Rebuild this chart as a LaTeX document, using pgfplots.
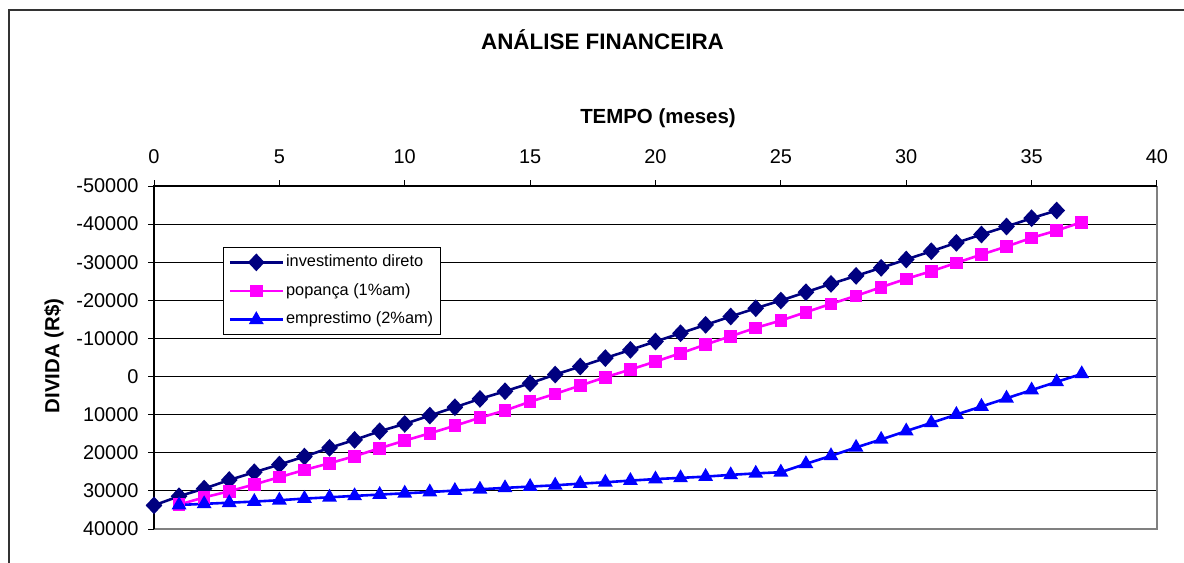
\documentclass[border=0pt]{standalone}
\usepackage{fontspec}
\setmainfont{Liberation Sans}
\usepackage{pgfplots}
\pgfplotsset{compat=1.18}
\definecolor{navyc}{RGB}{0,0,128}
\definecolor{magc}{RGB}{255,0,255}
\definecolor{bluec}{RGB}{0,0,255}
\definecolor{bordergray}{RGB}{128,128,128}
\begin{document}
\begin{tikzpicture}
\useasboundingbox (0bp,0bp) rectangle (1184bp,563bp);
\draw[line width=1.5bp, black!80] (9bp,0bp) -- (9bp,553bp) -- (1184bp,553bp);
\node[anchor=base, font=\bfseries\fontsize{22.5}{26}\selectfont] at (602.5bp,513.1bp) {ANÁLISE FINANCEIRA};
\node[anchor=base, font=\bfseries\fontsize{20.5}{24}\selectfont] at (658bp,439.7bp) {TEMPO (meses)};
\node[anchor=base, rotate=90, font=\bfseries\fontsize{20.5}{24}\selectfont] at (59.3bp,207bp) {DIVIDA (R\$)};
\begin{axis}[
  at={(154bp,34bp)}, anchor=south west,
  width=1003bp, height=343bp, scale only axis,
  xmin=0, xmax=40, ymin=-50000, ymax=40000, y dir=reverse,
  clip=false, scaled y ticks=false, scaled x ticks=false,
  xtick={0,5,10,15,20,25,30,35,40}, xticklabels={0,5,10,15,20,25,30,35,40},
  ytick={-50000,-40000,-30000,-20000,-10000,0,10000,20000,30000,40000},
  yticklabels={-50000,-40000,-30000,-20000,-10000,0,10000,20000,30000,40000},
  xtick pos=upper, ytick pos=lower, xticklabel pos=upper, yticklabel pos=lower,
  tick align=outside, major tick length=6bp,
  tick style={black, line width=1bp},
  ticklabel style={font=\fontsize{20}{24}\selectfont},
  yticklabel style={xshift=-6bp},
  xticklabel style={yshift=13bp},
  ymajorgrids, major grid style={black, line width=1bp},
  axis line style={draw=none},
  legend cell align=left,
  legend image code/.code={\draw[mark repeat=2,mark phase=2,#1] plot coordinates {(0bp,0bp) (26.5bp,0bp) (53bp,0bp)};},
  legend style={at={(axis description cs:0.0688,0.822)}, anchor=north west,
    draw=black, line width=1bp, font=\fontsize{16.4}{19}\selectfont,
    inner xsep=5bp, inner ysep=6.8bp, row sep=12.7bp,
    nodes={inner xsep=2bp, inner ysep=0bp, text height=12bp, text depth=4bp}},
]
\draw[bordergray, line width=2bp] (axis cs:40,-50000) -- (axis cs:40,40000) -- (axis cs:0,40000);
\draw[black, line width=1.2bp] (axis cs:0,40000) -- (axis cs:0,-50000) -- (axis cs:40,-50000);
\addplot[color=navyc, line width=2.6bp, mark=diamond*, mark size=7bp, mark options={solid, fill=navyc, xscale=1.25}]
coordinates {
(0,33800) (1,31400) (2,29400) (3,27150) (4,25110) (5,23100) (6,21000) (7,18710) (8,16620)
(9,14350) (10,12420) (11,10240) (12,8050) (13,5860) (14,3860) (15,1760) (16,-520)
(17,-2620) (18,-4840) (19,-7000) (20,-9190) (21,-11370) (22,-13570) (23,-15750)
(24,-17930) (25,-19950) (26,-22130) (27,-24320) (28,-26420) (29,-28530) (30,-30710)
(31,-32890) (32,-35090) (33,-37270) (34,-39370) (35,-41550) (36,-43570)
};
\addlegendentry{investimento direto}
\addplot[color=magc, line width=2.6bp, mark=square*, mark size=5bp, mark options={solid, fill=magc}]
coordinates {
(1,33600) (2,31700) (3,30100) (4,28300) (5,26400) (6,24500) (7,22750) (8,20900)
(9,18800) (10,16800) (11,14900) (12,12900) (13,10800) (14,8900) (15,6600) (16,4540)
(17,2360) (18,180) (19,-1840) (20,-3940) (21,-6120) (22,-8400) (23,-10580) (24,-12780)
(25,-14700) (26,-16880) (27,-19080) (28,-21180) (29,-23440) (30,-25640) (31,-27640)
(32,-29840) (33,-32020) (34,-34120) (35,-36400) (36,-38320) (37,-40500)
};
\addlegendentry{popança (1\%am)}
\addplot[color=bluec, line width=2.6bp, mark=triangle*, mark size=6bp, mark options={solid, fill=bluec}]
coordinates {
(1,33700) (2,33400) (3,33100) (4,32800) (5,32450) (6,32020) (7,31680) (8,31310)
(9,30970) (10,30630) (11,30300) (12,29920) (13,29580) (14,29210) (15,28870) (16,28530)
(17,28100) (18,27740) (19,27300) (20,26900) (21,26590) (22,26250) (23,25800) (24,25400)
(25,25100) (26,22900) (27,20800) (28,18600) (29,16500) (30,14300) (31,12150)
(32,9970) (33,7850) (34,5700) (35,3550) (36,1400) (37,-700)
};
\addlegendentry{emprestimo (2\%am)}
\end{axis}
\end{tikzpicture}
\end{document}
